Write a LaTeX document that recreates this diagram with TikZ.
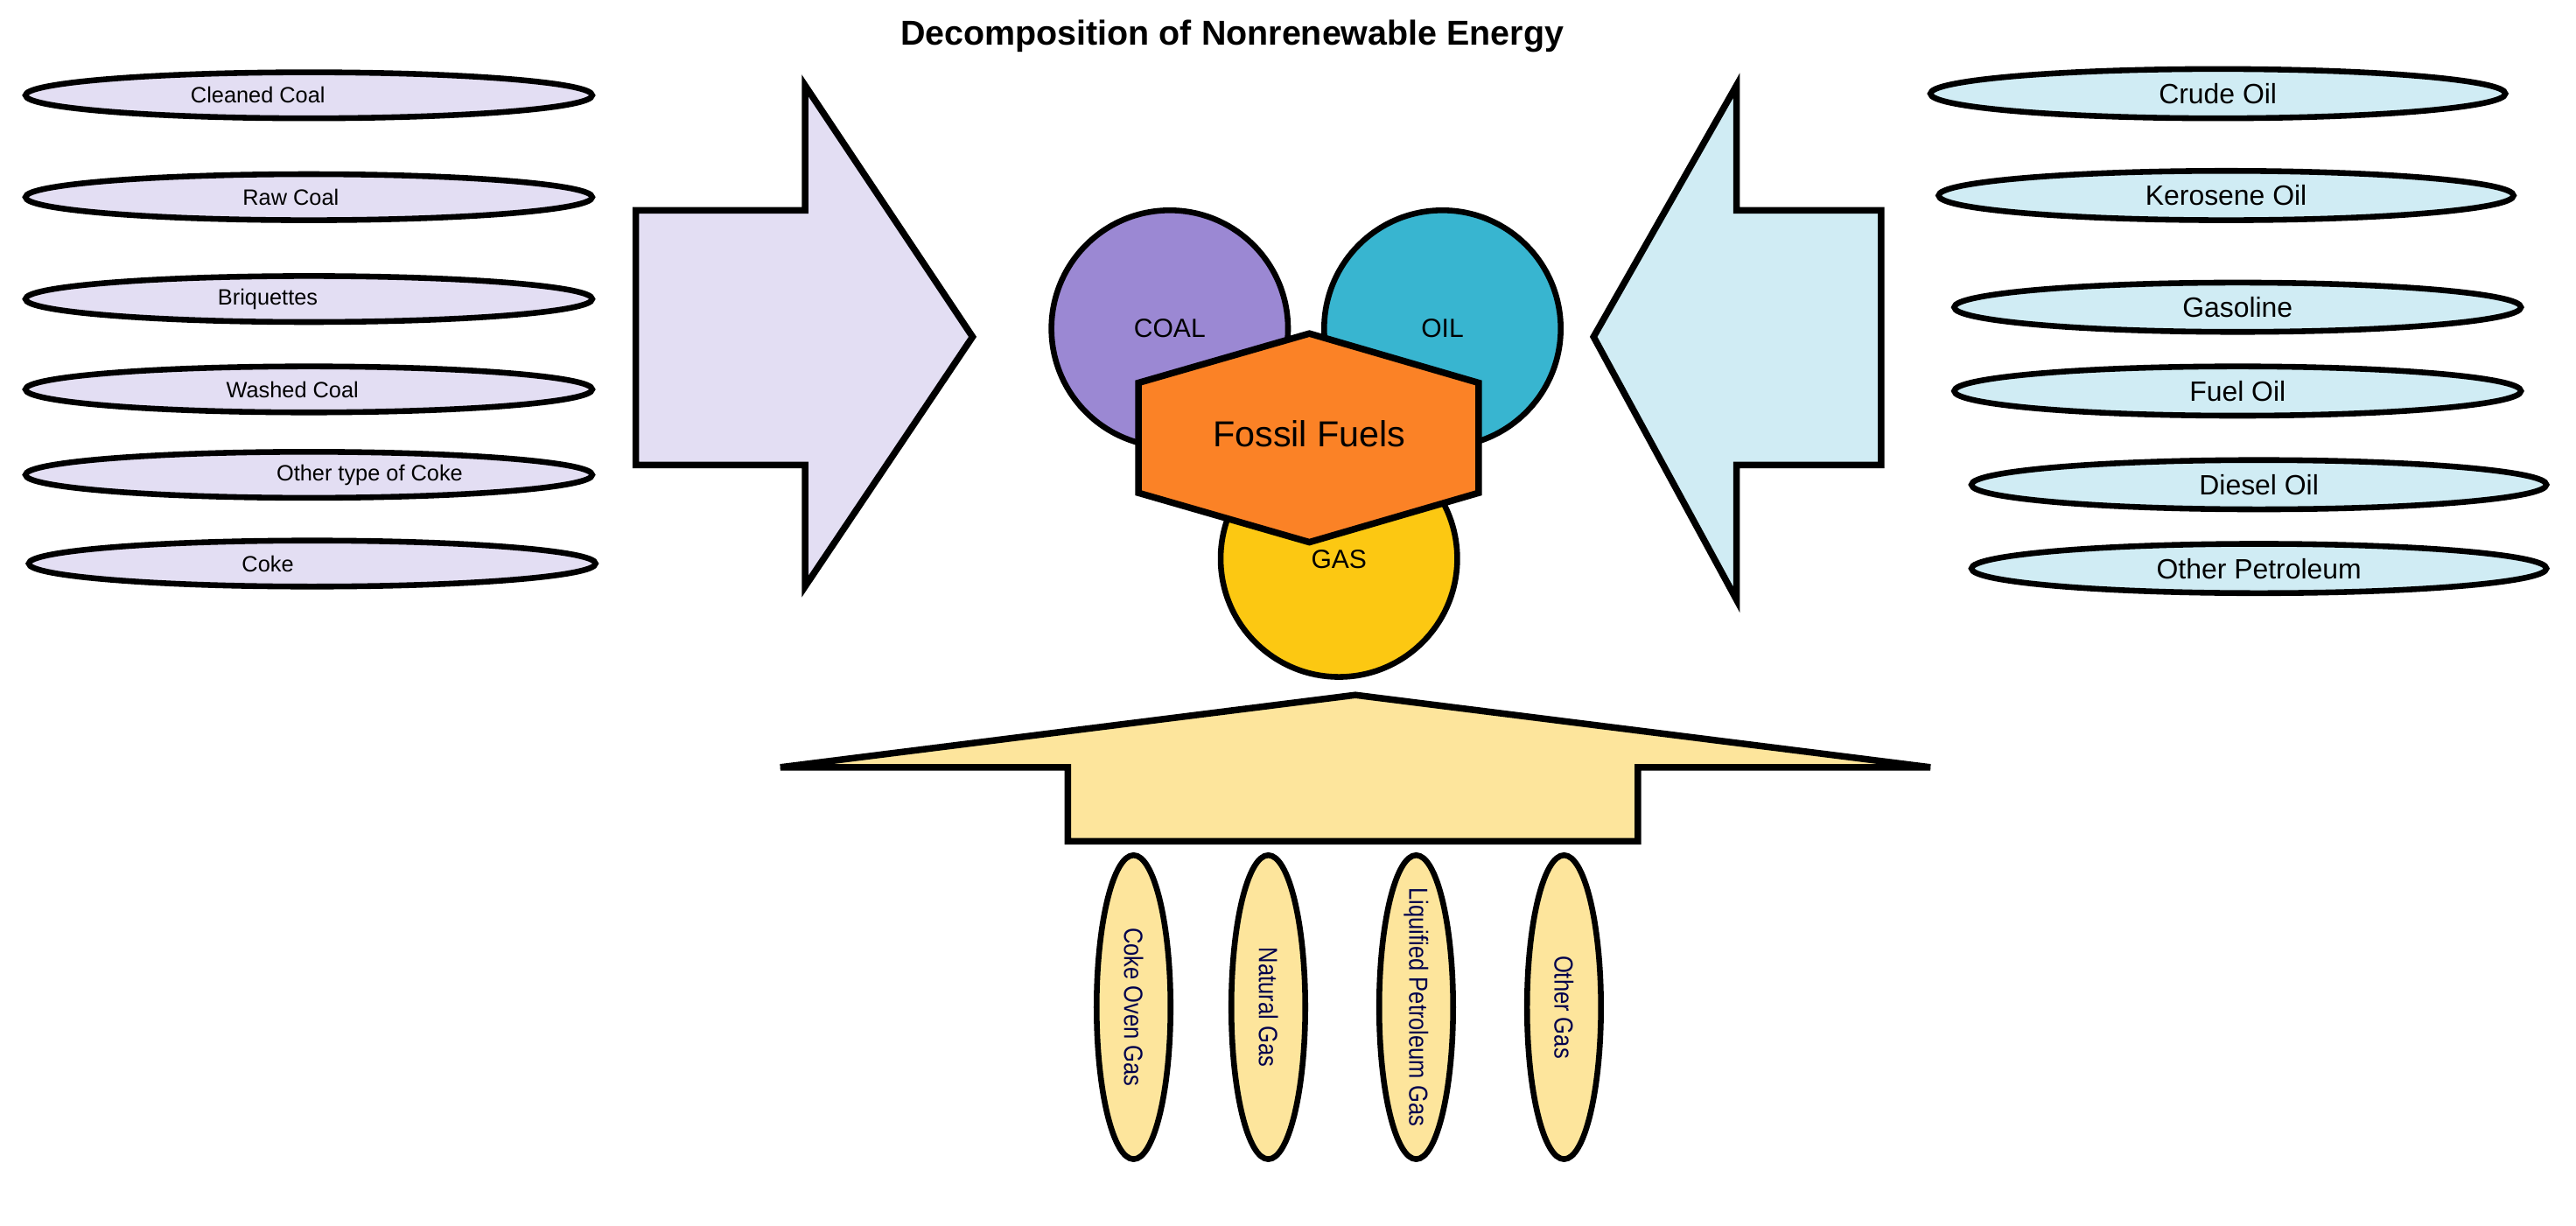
\documentclass[tikz,border=0pt]{standalone}
\usepackage{fontspec}
\setmainfont{Liberation Sans}
\usetikzlibrary{shapes.geometric}
\definecolor{lav}{HTML}{E3DEF3}
\definecolor{lblue}{HTML}{D0ECF4}
\definecolor{lyel}{HTML}{FDE59C}
\definecolor{coal}{HTML}{9B88D3}
\definecolor{oil}{HTML}{38B5D0}
\definecolor{gas}{HTML}{FCC812}
\definecolor{hex}{HTML}{FB8226}
\tikzset{
 ell/.style={ellipse,draw,line width=3.5pt,inner sep=0pt},
 lell/.style={ell,fill=lav,minimum width=345pt,minimum height=28pt},
 ltxt/.style={font=\fontsize{13.5}{15}\selectfont},
 rell/.style={ell,fill=lblue,minimum width=350pt,minimum height=30pt,font=\fontsize{17}{19}\selectfont},
 bell/.style={ell,fill=lyel,minimum width=45pt,minimum height=185pt},
 btxt/.style={rotate=-90,font=\fontsize{16}{18}\selectfont,text=black!70!blue},
 arr/.style={draw,line width=4pt,line join=miter},
 circ/.style={circle,draw,line width=3.5pt,minimum size=144pt,inner sep=0pt,font=\fontsize{16}{18}\selectfont}
}
\begin{document}
\begin{tikzpicture}[x=1pt,y=-1pt]
\useasboundingbox (0,0) rectangle (1568,746);
\node[font=\bfseries\fontsize{21}{24}\selectfont] (title) at (750,22) {Decomposition of Nonrenewable Energy};
% left
\node[lell] (l1) at (188,58) {}; \node[ltxt] at (157,58) {Cleaned Coal};
\node[lell] (l2) at (188,120) {}; \node[ltxt] at (177,120) {Raw Coal};
\node[lell] (l3) at (188,182) {}; \node[ltxt] at (163,182) {Briquettes};
\node[lell] (l4) at (188,237) {}; \node[ltxt] at (178,237) {Washed Coal};
\node[lell] (l5) at (188,289) {}; \node[ltxt] at (225,289) {Other type of Coke};
\node[lell] (l6) at (190,343) {}; \node[ltxt] at (163,343) {Coke};
% right
\node[rell] (r1) at (1350,57) {Crude Oil};
\node[rell] (r2) at (1355,119) {Kerosene Oil};
\node[rell,minimum width=345pt] (r3) at (1362,187) {Gasoline};
\node[rell,minimum width=345pt] (r4) at (1362,238) {Fuel Oil};
\node[rell] (r5) at (1375,295) {Diesel Oil};
\node[rell] (r6) at (1375,346) {Other Petroleum};
% arrows
\draw[arr,fill=lav] (387,128)--(490,128)--(490,52)--(592,205)--(490,357)--(490,283)--(387,283)--cycle;
\draw[arr,fill=lblue] (1145,128)--(1057,128)--(1057,52)--(970,205)--(1057,365)--(1057,283)--(1145,283)--cycle;
\draw[arr,fill=lyel] (825,423)--(1175,467)--(997,467)--(997,512)--(650,512)--(650,467)--(475,467)--cycle;
% circles
\node[circ,fill=gas] (gas) at (815,340) {\raisebox{-12pt}{GAS}};
\node[circ,fill=coal] (coal) at (712,200) {COAL};
\node[circ,fill=oil] (oil) at (878,200) {OIL};
\draw[line width=4pt,fill=hex] (797,203)--(900,233)--(900,300)--(797,330)--(693,300)--(693,233)--cycle;
\node[font=\fontsize{22}{26}\selectfont] (ff) at (797,264) {Fossil Fuels};
% bottom
\node[bell] (b1) at (690,613) {}; \node[btxt] at (b1) {\scalebox{0.85}[1]{Coke Oven Gas}};
\node[bell] (b2) at (772,613) {}; \node[btxt] at (b2) {\scalebox{0.85}[1]{Natural Gas}};
\node[bell] (b3) at (862,613) {}; \node[btxt] at (b3) {\scalebox{0.85}[1]{Liquified Petroleum Gas}};
\node[bell] (b4) at (952,613) {}; \node[btxt] at (b4) {\scalebox{0.85}[1]{Other Gas}};
\end{tikzpicture}
\end{document}
